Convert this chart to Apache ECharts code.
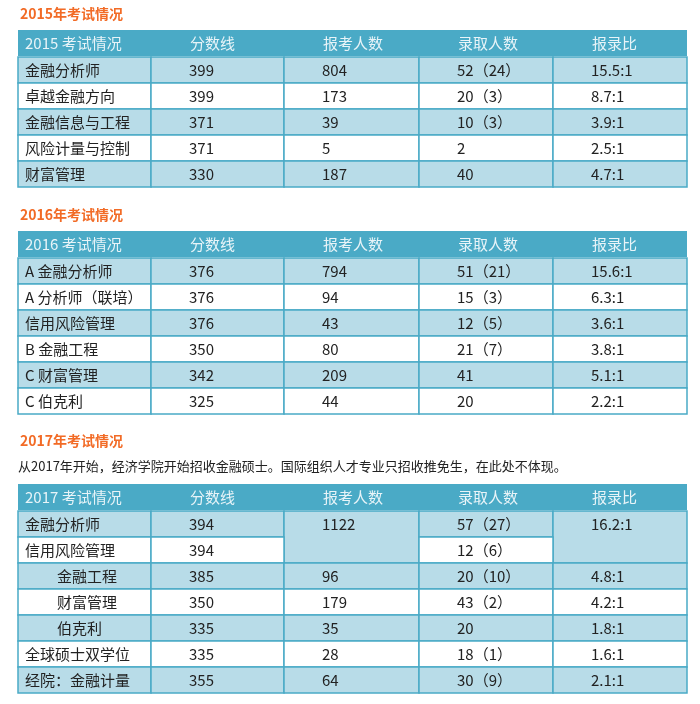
<!DOCTYPE html>
<html><head><meta charset="utf-8">
<script src="https://cdn.jsdelivr.net/npm/echarts@6/dist/echarts.min.js"></script>
<style>html,body{margin:0;background:#fff}#c{width:700px;height:704px}</style>
</head><body><div id="c"></div>
<script>
const headers = ["分数线", "报考人数", "录取人数", "报录比"];

const names2015 = ["金融分析师", "卓越金融方向", "金融信息与工程", "风险计量与控制", "财富管理"];
const scores2015 = ["399", "399", "371", "371", "330"];
const applicants2015 = ["804", "173", "39", "5", "187"];
const admitted2015 = ["52（24）", "20（3）", "10（3）", "2", "40"];
const ratio2015 = ["15.5:1", "8.7:1", "3.9:1", "2.5:1", "4.7:1"];

const names2016 = ["A 金融分析师", "A 分析师（联培）", "信用风险管理", "B 金融工程", "C 财富管理", "C 伯克利"];
const scores2016 = ["376", "376", "376", "350", "342", "325"];
const applicants2016 = ["794", "94", "43", "80", "209", "44"];
const admitted2016 = ["51（21）", "15（3）", "12（5）", "21（7）", "41", "20"];
const ratio2016 = ["15.6:1", "6.3:1", "3.6:1", "3.8:1", "5.1:1", "2.2:1"];

const names2017 = ["金融分析师", "信用风险管理", "金融工程", "财富管理", "伯克利", "全球硕士双学位", "经院：金融计量"];
const indent2017 = [0, 0, 1, 1, 1, 0, 0];
const scores2017 = ["394", "394", "385", "350", "335", "335", "355"];
const applicants2017 = ["1122", null, "96", "179", "35", "28", "64"];
const admitted2017 = ["57（27）", "12（6）", "20（10）", "43（2）", "20", "18（1）", "30（9）"];
const ratio2017 = ["16.2:1", null, "4.8:1", "4.2:1", "1.8:1", "1.6:1", "2.1:1"];

const HEAD = "#4aaac6", LIGHT = "#b8dce8", FONT = "'Noto Sans CJK SC', sans-serif";
const colX = [18, 151, 284, 419, 553, 687];
const rowH = 26;
const g = [];

function txt(x, y, s, opt) {
  g.push({ type: "text", x, y, style: Object.assign({ text: s, font: "15px " + FONT, fill: "#222", textVerticalAlign: "middle" }, opt || {}) });
}
function rect(x, y, w, h, fill) {
  g.push({ type: "rect", shape: { x, y, width: w, height: h }, style: { fill, stroke: HEAD, lineWidth: 1.5 } });
}

function table(top, title, names, cols, spans, indent) {
  g.push({ type: "rect", shape: { x: colX[0], y: top, width: colX[5] - colX[0], height: rowH }, style: { fill: HEAD } });
  txt(colX[0] + 7, top + 13, title, { fill: "#e8f4f8" });
  headers.forEach((h, i) => txt(colX[i + 1] + 39, top + 13, h, { fill: "#e8f4f8" }));
  const y0 = top + rowH + 1;
  names.forEach((n, r) => {
    const y = y0 + r * rowH, fill = r % 2 === 0 ? LIGHT : "#fff";
    const row = [n].concat(cols.map(c => c[r]));
    row.forEach((v, c) => {
      const sp = spans && spans[c];
      if (sp && r === 1) return;
      const h = sp && r === 0 ? rowH * 2 : rowH;
      rect(colX[c], y, colX[c + 1] - colX[c], h, fill);
      const tx = c === 0 ? colX[0] + 7 + (indent && indent[r] ? 32 : 0) : colX[c] + 38;
      txt(tx, y + 13, v);
    });
  });
}

function heading(y, s) {
  txt(20, y, s, { fill: "#f26b26", font: "bold 14px " + FONT });
}

heading(14, "2015年考试情况");
table(30, "2015 考试情况", names2015, [scores2015, applicants2015, admitted2015, ratio2015]);
heading(215, "2016年考试情况");
table(231, "2016 考试情况", names2016, [scores2016, applicants2016, admitted2016, ratio2016]);
heading(441, "2017年考试情况");
txt(18, 466, "从2017年开始，经济学院开始招收金融硕士。国际组织人才专业只招收推免生，在此处不体现。", { font: "13px " + FONT });
table(484, "2017 考试情况", names2017, [scores2017, applicants2017, admitted2017, ratio2017], { 2: true, 4: true }, indent2017);

const chart = echarts.init(document.getElementById("c"));
chart.setOption({ graphic: { elements: g } });
</script></body></html>
